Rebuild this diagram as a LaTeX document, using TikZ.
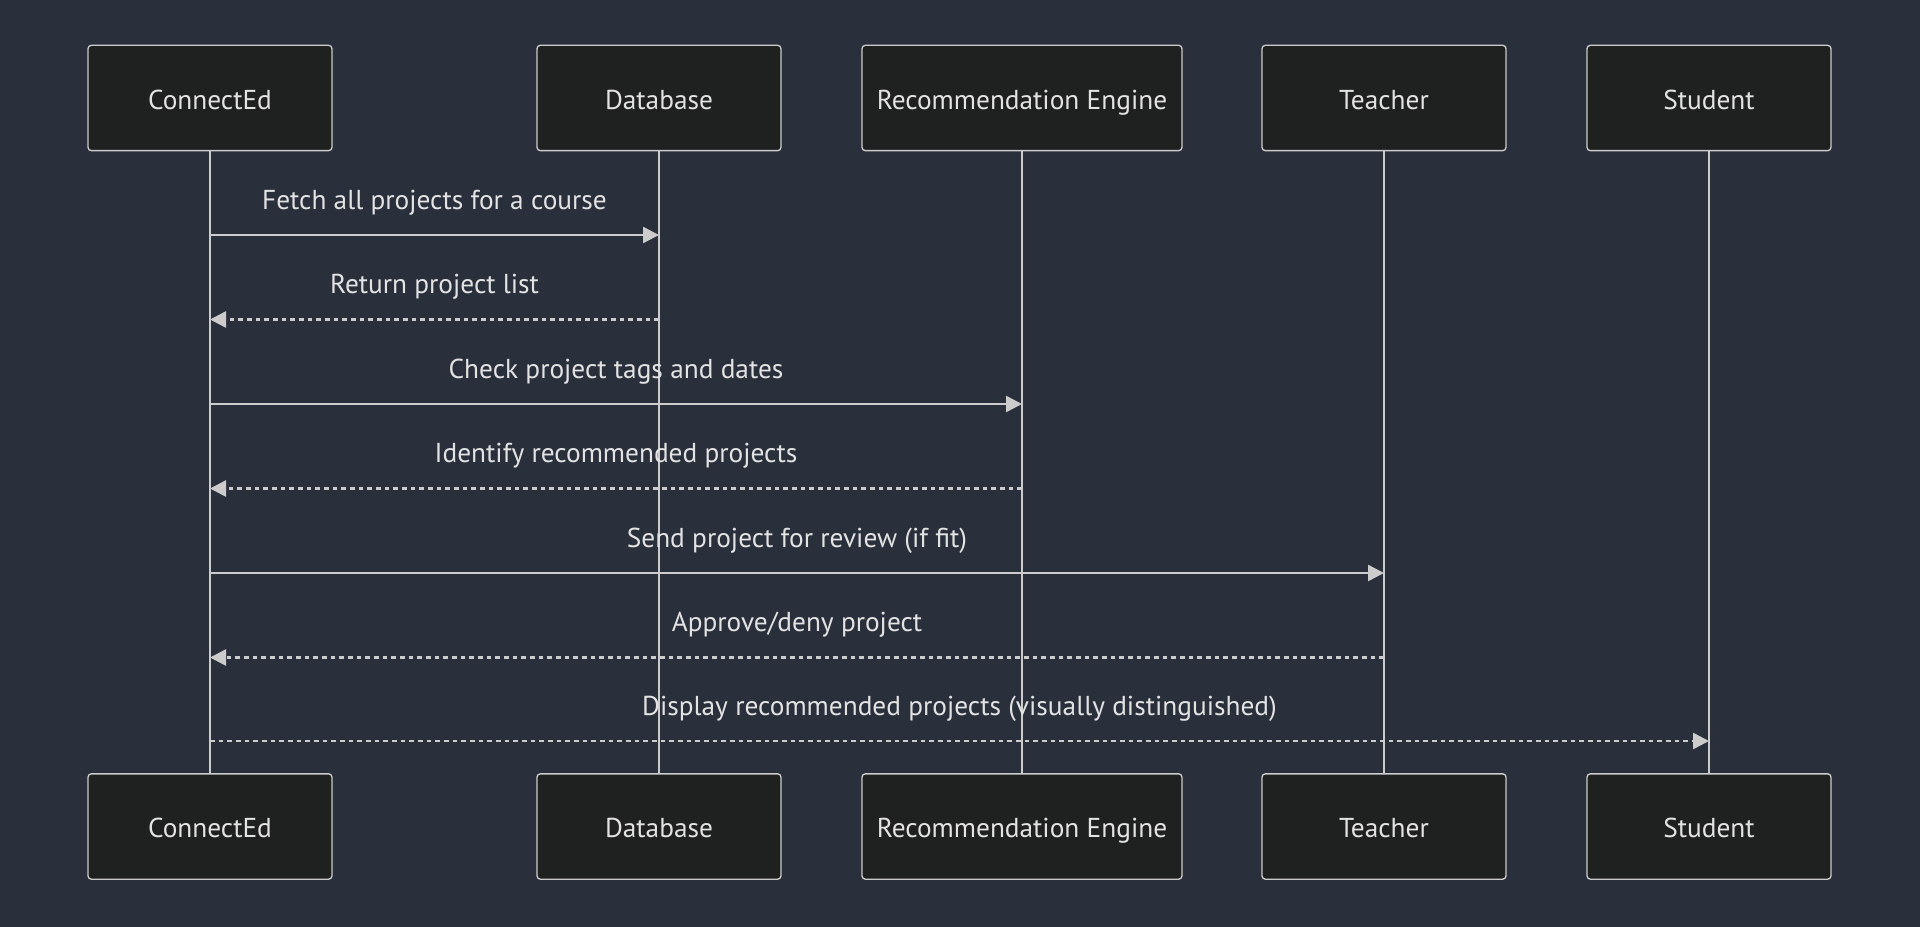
\documentclass[tikz,border=0pt]{standalone}
\usepackage{fontspec}
\setmainfont{PT Sans}
\usetikzlibrary{arrows.meta,calc}
\definecolor{bg}{HTML}{2A2F3C}
\definecolor{boxfill}{HTML}{1F2020}
\definecolor{linecol}{HTML}{CCCCCC}
\definecolor{txt}{HTML}{E3E3E3}
\tikzset{
  actor/.style={draw=linecol, fill=boxfill, line width=1pt, rounded corners=2.5pt,
    minimum width=183pt, minimum height=79pt, inner sep=0pt, text=txt,
    text height=17.5pt, text depth=0.5pt,
    font=\fontsize{20.5}{24}\selectfont},
  wideactor/.style={actor, minimum width=240pt},
  lifeline/.style={draw=linecol, line width=1.9pt},
  msg/.style={draw=linecol, line width=1.9pt, -{Triangle[length=12pt,width=12pt]}},
  reply/.style={msg, dash pattern=on 3.5pt off 3pt},
  lbl/.style={text=txt, font=\fontsize{20.5}{24}\selectfont, inner sep=0pt,
    text height=17.5pt, text depth=0.5pt}
}
\begin{document}
\begin{tikzpicture}[x=0.75pt,y=-0.75pt]
\fill[bg] (0,0) rectangle (1920,927);
\useasboundingbox (0,0) rectangle (1920,927);
% top actors
\node[actor] (c1) at (210,98) {ConnectEd};
\node[actor] (d1) at (659,98) {Database};
\node[wideactor] (r1) at (1022,98) {Recommendation Engine};
\node[actor] (t1) at (1384,98) {Teacher};
\node[actor] (s1) at (1709,98) {Student};
% bottom actors
\node[actor] (c2) at (210,826.5) {ConnectEd};
\node[actor] (d2) at (659,826.5) {Database};
\node[wideactor] (r2) at (1022,826.5) {Recommendation Engine};
\node[actor] (t2) at (1384,826.5) {Teacher};
\node[actor] (s2) at (1709,826.5) {Student};
% lifelines
\foreach \a in {c,d,r,t,s}{\draw[lifeline] (\a1.south) -- (\a2.north);}
% message anchor coordinates
\foreach \a in {c,d,r,t,s}{
  \foreach \i/\yy in {1/235,2/319.5,3/404,4/488.5,5/573,6/657.5,7/741}{
    \coordinate (\a m\i) at (\a1.south |- 0,\yy);
  }
}
\draw[msg] (cm1) -- (dm1);
\node[lbl] (l1) at ($(cm1)!0.5!(dm1)+(0,-37)$) {Fetch all projects for a course};
\draw[reply] (dm2) -- (cm2);
\node[lbl] (l2) at ($(cm2)!0.5!(dm2)+(0,-37)$) {Return project list};
\draw[msg] (cm3) -- (rm3);
\node[lbl] (l3) at ($(cm3)!0.5!(rm3)+(0,-37)$) {Check project tags and dates};
\draw[reply] (rm4) -- (cm4);
\node[lbl] (l4) at ($(cm4)!0.5!(rm4)+(0,-37)$) {Identify recommended projects};
\draw[msg] (cm5) -- (tm5);
\node[lbl] (l5) at ($(cm5)!0.5!(tm5)+(0,-37)$) {Send project for review (if fit)};
\draw[reply] (tm6) -- (cm6);
\node[lbl] (l6) at ($(cm6)!0.5!(tm6)+(0,-37)$) {Approve/deny project};
\draw[reply] (cm7) -- (sm7);
\node[lbl] (l7) at ($(cm7)!0.5!(sm7)+(0,-37)$) {Display recommended projects (visually distinguished)};
\end{tikzpicture}
\end{document}
